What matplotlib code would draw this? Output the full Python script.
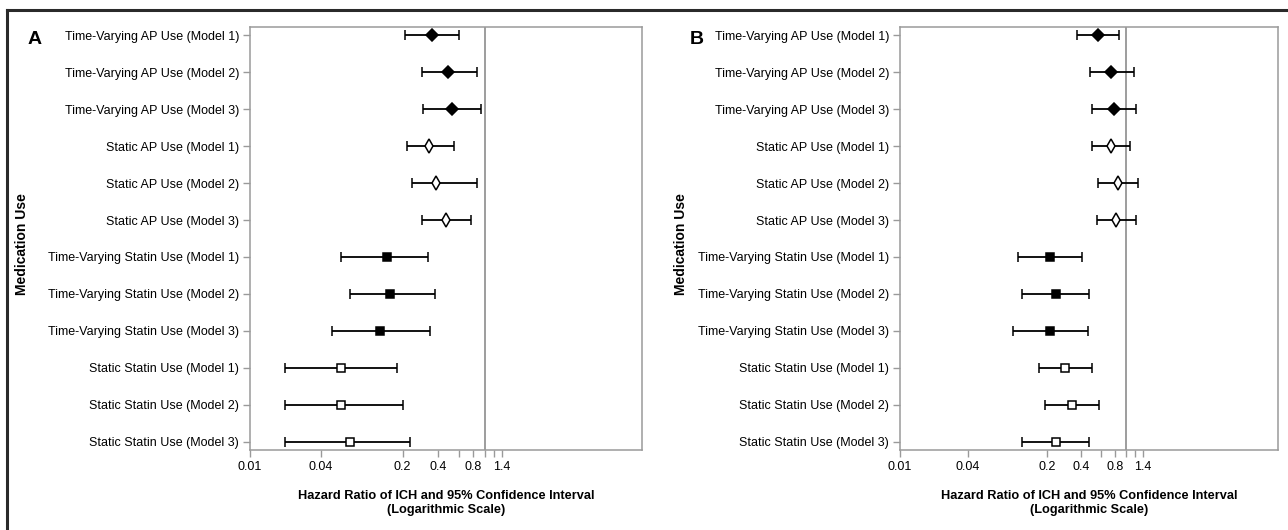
import numpy as np
import matplotlib
matplotlib.use("Agg")
import matplotlib.pyplot as plt
from matplotlib.lines import Line2D

plt.rcParams['font.family'] = ['Liberation Sans', 'DejaVu Sans']

# rows, top to bottom
labels = [
    "Time-Varying AP Use (Model 1)",
    "Time-Varying AP Use (Model 2)",
    "Time-Varying AP Use (Model 3)",
    "Static AP Use (Model 1)",
    "Static AP Use (Model 2)",
    "Static AP Use (Model 3)",
    "Time-Varying Statin Use (Model 1)",
    "Time-Varying Statin Use (Model 2)",
    "Time-Varying Statin Use (Model 3)",
    "Static Statin Use (Model 1)",
    "Static Statin Use (Model 2)",
    "Static Statin Use (Model 3)",
]

# panel A: hazard ratio, lower and upper 95% CI
a_hr = [0.356, 0.49, 0.53, 0.336, 0.386, 0.47, 0.148, 0.157, 0.129, 0.060, 0.060, 0.071]
a_lo = [0.21, 0.29, 0.30, 0.218, 0.241, 0.29, 0.060, 0.071, 0.050, 0.020, 0.020, 0.020]
a_hi = [0.61, 0.87, 0.93, 0.55, 0.87, 0.76, 0.33, 0.38, 0.34, 0.18, 0.20, 0.23]

# panel B
b_hr = [0.56, 0.74, 0.78, 0.74, 0.84, 0.82, 0.21, 0.24, 0.21, 0.29, 0.33, 0.24]
b_lo = [0.37, 0.48, 0.50, 0.50, 0.56, 0.555, 0.11, 0.12, 0.10, 0.17, 0.19, 0.12]
b_hi = [0.86, 1.18, 1.22, 1.09, 1.26, 1.22, 0.41, 0.47, 0.46, 0.50, 0.58, 0.47]

# marker style for each group of 3 rows: (marker, filled, size)
group_styles = [("D", True, 6.5), ("d", False, 7.5), ("s", True, 6), ("s", False, 5.5)]

tick_vals = [0.01, 0.04, 0.2, 0.4, 0.6, 0.8, 1.0, 1.2, 1.4]
tick_text = ["0.01", "0.04", "0.2", "0.4", "", "0.8", "", "", "1.4"]

W, H = 1288, 530
fig = plt.figure(figsize=(W / 100, H / 100), dpi=100)

GRAY = "#9a9a9a"


def draw_panel(ax, hr, lo, hi, letter, letter_x, ylab_x):
    y = np.arange(len(labels))
    for i in range(len(labels)):
        mk, filled, ms = group_styles[i // 3]
        ax.errorbar(hr[i], y[i], xerr=[[hr[i] - lo[i]], [hi[i] - hr[i]]],
                    fmt=mk, color="black", ecolor="black", elinewidth=1.3,
                    capsize=3.6, capthick=1.2, markersize=ms,
                    markerfacecolor="black" if filled else "white",
                    markeredgecolor="black", markeredgewidth=1.1, zorder=3)
    ax.axvline(1.0, color="#8c8c8c", lw=1.2, zorder=1)
    ax.set_xscale("log")
    ax.set_xlim(0.01, 22)
    ax.set_ylim(11.23, -0.23)
    ax.set_yticks(y)
    ax.set_yticklabels(labels, fontsize=9)
    ax.set_xticks(tick_vals)
    ax.set_xticklabels(tick_text, fontsize=9)
    ax.minorticks_off()
    ax.tick_params(axis="both", color=GRAY, length=5, width=1, pad=3)
    for sp in ax.spines.values():
        sp.set_color(GRAY)
        sp.set_linewidth(1.1)
    ax.set_xlabel("Hazard Ratio of ICH and 95% Confidence Interval\n(Logarithmic Scale)",
                  fontsize=9.2, fontweight="bold", labelpad=12, linespacing=1.2)
    fig.text(letter_x / W, 1 - 39 / H, letter, fontsize=14, fontweight="bold",
             ha="center", va="center")
    fig.text(ylab_x / W, 1 - 244 / H, "Medication Use", fontsize=10, fontweight="bold",
             rotation=90, ha="center", va="center")


ax_a = fig.add_axes([250 / W, 1 - 450 / H, 392 / W, 423 / H])
draw_panel(ax_a, a_hr, a_lo, a_hi, "A", 35, 22)

ax_b = fig.add_axes([900 / W, 1 - 450 / H, 378 / W, 423 / H])
draw_panel(ax_b, b_hr, b_lo, b_hi, "B", 697, 681)

# outer frame lines (top and left)
fig.add_artist(Line2D([7 / W, 1], [1 - 10 / H, 1 - 10 / H], color="#2a2a2a", lw=2.2,
                      transform=fig.transFigure))
fig.add_artist(Line2D([7 / W, 7 / W], [0, 1 - 10 / H], color="#2a2a2a", lw=2.2,
                      transform=fig.transFigure))

fig.savefig("out.png", dpi=100)
